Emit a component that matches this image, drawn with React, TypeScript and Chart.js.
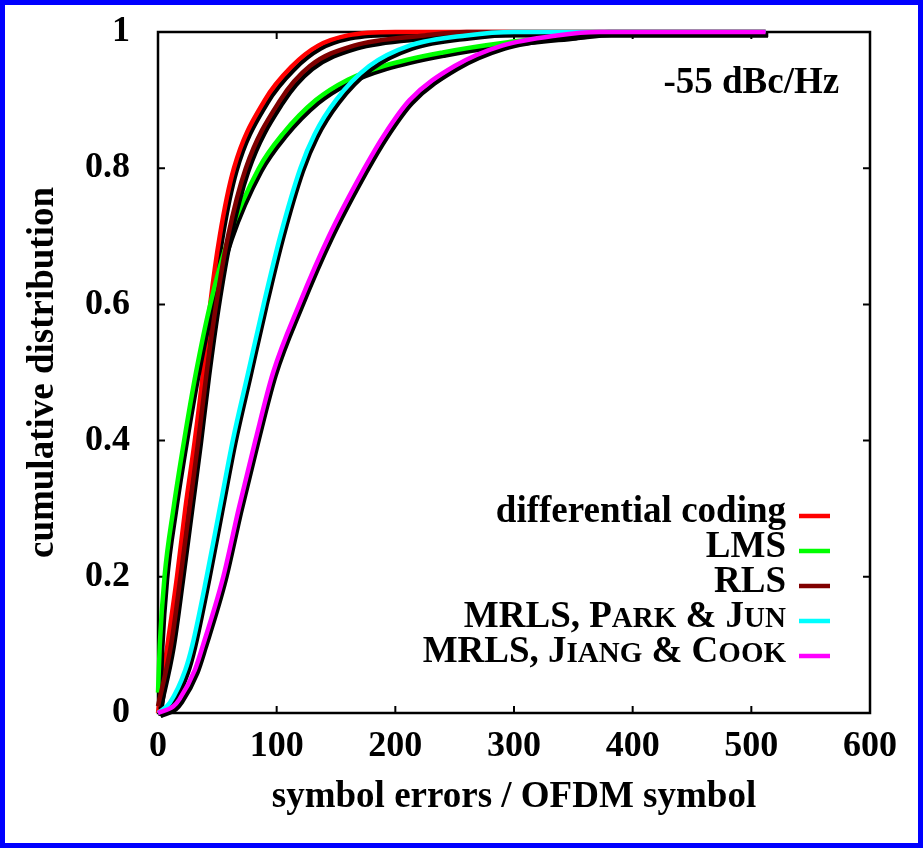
import React, { useEffect, useRef } from "react";
import { Chart, registerables } from "chart.js";

Chart.register(...registerables);

const FONT = '"Liberation Serif", "Times New Roman", serif';

// ---- data ----
const diffX = [0, 8, 16, 23, 31, 38, 44, 52, 64, 90, 113, 135, 160, 200, 512];
const diffY = [0, 0.1, 0.2, 0.3, 0.4, 0.5, 0.6, 0.7, 0.8, 0.9, 0.95, 0.98, 0.995, 1, 1];

const lmsX = [0, 1.5, 5.5, 13, 22, 32, 44, 60, 85, 105, 133, 160, 190, 240, 295, 350, 380, 512];
const lmsY = [0.03, 0.1, 0.2, 0.3, 0.4, 0.5, 0.6, 0.7, 0.8, 0.85, 0.9, 0.93, 0.95, 0.97, 0.985, 0.995, 1, 1];

const rlsX = [0, 11, 19, 26.5, 34, 41, 49, 59, 74, 103, 128, 165, 225, 260, 512];
const rlsY = [0.01, 0.1, 0.2, 0.3, 0.4, 0.5, 0.6, 0.7, 0.8, 0.9, 0.95, 0.98, 0.995, 1, 1];

const parkX = [0, 10, 23, 29, 41, 52, 63, 76, 89, 103, 120, 132, 150, 178, 212, 260, 300, 512];
const parkY = [0, 0.015, 0.063, 0.1, 0.2, 0.3, 0.4, 0.5, 0.6, 0.7, 0.8, 0.85, 0.9, 0.95, 0.98, 0.995, 1, 1];

const jiangX = [0, 13, 18, 31, 38, 55, 68, 82, 97, 119, 144, 174, 191, 212, 250, 290, 336, 372, 512];
const jiangY = [0, 0.01, 0.02, 0.063, 0.1, 0.2, 0.3, 0.4, 0.5, 0.6, 0.7, 0.8, 0.85, 0.9, 0.95, 0.98, 0.995, 1, 1];

const SERIES_LABELS = ["differential coding", "LMS", "RLS", "MRLS, Park & Jun", "MRLS, Jiang & Cook"];
const SERIES_SMALLCAPS = [false, false, false, true, true];
const SERIES_COLORS = ["#ff0000", "#00ff00", "#800000", "#00ffff", "#ff00ff"];
const SERIES_X = [diffX, lmsX, rlsX, parkX, jiangX];
const SERIES_Y = [diffY, lmsY, rlsY, parkY, jiangY];

const X_MIN = 0, X_MAX = 600, X_STEP = 100;
const Y_MIN = 0, Y_MAX = 1, Y_STEP = 0.2;
const X_TITLE = "symbol errors / OFDM symbol";
const Y_TITLE = "cumulative distribution";
const ANNOTATION = "-55 dBc/Hz";
const ANNOT_X = 574;
const ANNOT_Y = 0.91;

function segmentsFor(label: string, smallCaps: boolean) {
  if (!smallCaps) return [{ t: label, small: false }];
  const segs: { t: string; small: boolean }[] = [];
  for (const ch of label) {
    const small = ch >= "a" && ch <= "z";
    const t = small ? ch.toUpperCase() : ch;
    const last = segs[segs.length - 1];
    if (last && last.small === small) last.t += t;
    else segs.push({ t, small });
  }
  return segs;
}

const decorPlugin = {
  id: "decor",
  beforeDatasetsDraw(chart: any) {
    const { ctx, chartArea: a, scales } = chart;
    ctx.save();
    ctx.strokeStyle = "#000";
    ctx.lineWidth = 2;
    const L = 7;
    ctx.beginPath();
    scales.x.ticks.forEach((t: any) => {
      const x = scales.x.getPixelForValue(t.value);
      if (x <= a.left + 1 || x >= a.right - 1) return;
      ctx.moveTo(x, a.bottom); ctx.lineTo(x, a.bottom - L);
      ctx.moveTo(x, a.top); ctx.lineTo(x, a.top + L);
    });
    scales.y.ticks.forEach((t: any) => {
      const y = scales.y.getPixelForValue(t.value);
      if (y <= a.top + 1 || y >= a.bottom - 1) return;
      ctx.moveTo(a.left, y); ctx.lineTo(a.left + L, y);
      ctx.moveTo(a.right, y); ctx.lineTo(a.right - L, y);
    });
    ctx.stroke();
    ctx.lineWidth = 2.5;
    ctx.strokeRect(a.left, a.top, a.right - a.left, a.bottom - a.top);
    ctx.restore();
  },
  beforeDatasetDraw(chart: any) {
    const ctx = chart.ctx;
    ctx.save();
    ctx.shadowColor = "#000";
    ctx.shadowOffsetX = 2.5;
    ctx.shadowOffsetY = 3;
    ctx.shadowBlur = 0;
  },
  afterDatasetDraw(chart: any) {
    chart.ctx.restore();
  },
  afterDraw(chart: any) {
    const { ctx, chartArea: a, scales } = chart;
    ctx.save();
    ctx.fillStyle = "#000";
    // annotation
    ctx.font = `bold 37px ${FONT}`;
    ctx.textAlign = "right";
    ctx.textBaseline = "alphabetic";
    ctx.fillText(ANNOTATION, scales.x.getPixelForValue(ANNOT_X), scales.y.getPixelForValue(ANNOT_Y));
    // legend
    const big = 37, small = 29;
    const textRight = a.right - 84;
    const base0 = a.top + 490;
    const rowH = 35;
    ctx.textAlign = "left";
    chart.data.datasets.forEach((ds: any, i: number) => {
      const segs = segmentsFor(ds.label, SERIES_SMALLCAPS[i]);
      let w = 0;
      segs.forEach((s) => {
        ctx.font = `bold ${s.small ? small : big}px ${FONT}`;
        w += ctx.measureText(s.t).width;
      });
      const by = base0 + i * rowH;
      let x = textRight - w;
      ctx.fillStyle = "#000";
      segs.forEach((s) => {
        ctx.font = `bold ${s.small ? small : big}px ${FONT}`;
        ctx.fillText(s.t, x, by);
        x += ctx.measureText(s.t).width;
      });
      ctx.strokeStyle = ds.borderColor;
      ctx.lineWidth = 4.5;
      ctx.beginPath();
      ctx.moveTo(a.right - 71, by - 6);
      ctx.lineTo(a.right - 40, by - 6);
      ctx.stroke();
    });
    // outer blue frame
    ctx.strokeStyle = "#0000ff";
    ctx.lineWidth = 5;
    ctx.strokeRect(2.5, 2.5, chart.width - 5, chart.height - 5);
    ctx.restore();
  },
};

export default function App() {
  const ref = useRef<HTMLCanvasElement | null>(null);
  useEffect(() => {
    if (!ref.current) return;
    const datasets = SERIES_LABELS.map((label, i) => ({
      label,
      data: SERIES_X[i].map((x, j) => ({ x, y: SERIES_Y[i][j] })),
      borderColor: SERIES_COLORS[i],
      backgroundColor: SERIES_COLORS[i],
      borderWidth: 4.5,
      pointRadius: 0,
      fill: false,
      cubicInterpolationMode: "monotone" as const,
      clip: false as any,
      order: SERIES_LABELS.length - i,
    }));
    const tickFont = { family: FONT, size: 36, weight: "bold" as const, lineHeight: 1 };
    const titleFont = { family: FONT, size: 37, weight: "bold" as const, lineHeight: 1 };
    const chart = new Chart(ref.current, {
      type: "line",
      data: { datasets },
      options: {
        animation: false,
        responsive: false,
        layout: { padding: { left: 0, top: 32, right: 53, bottom: 0 } },
        plugins: { legend: { display: false }, tooltip: { enabled: false } },
        scales: {
          x: {
            type: "linear",
            min: X_MIN,
            max: X_MAX,
            ticks: { stepSize: X_STEP, font: tickFont, color: "#000", padding: 16, maxRotation: 0 },
            grid: { display: false, drawTicks: false },
            border: { display: false },
            title: { display: true, text: X_TITLE, font: titleFont, color: "#000", padding: { top: 0, bottom: 32 } },
            afterFit: (s: any) => { s.height = 135; s.paddingLeft = 0; s.paddingRight = 0; },
          },
          y: {
            type: "linear",
            min: Y_MIN,
            max: Y_MAX,
            ticks: {
              stepSize: Y_STEP,
              font: tickFont,
              color: "#000",
              padding: 28,
              callback: (v: any) => String(Number(Number(v).toFixed(1))),
            },
            grid: { display: false, drawTicks: false },
            border: { display: false },
            title: { display: true, text: Y_TITLE, font: titleFont, color: "#000", padding: { top: 25, bottom: 0 } },
            afterFit: (s: any) => { s.width = 158; s.paddingTop = 0; s.paddingBottom = 0; },
          },
        },
      },
      plugins: [decorPlugin],
    });
    return () => chart.destroy();
  }, []);
  return (
    <div style={{ position: "absolute", left: 0, top: 0, width: 923, height: 848, background: "#fff" }}>
      <canvas ref={ref} width={923} height={848} style={{ display: "block" }} />
    </div>
  );
}
